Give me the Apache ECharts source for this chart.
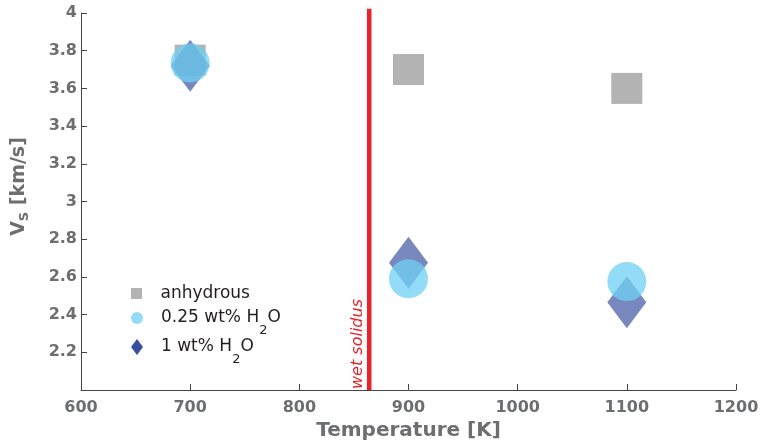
<!DOCTYPE html>
<html>
<head>
<meta charset="utf-8">
<script src="https://cdn.jsdelivr.net/npm/echarts@6/dist/echarts.min.js"></script>
<style>html,body{margin:0;padding:0;background:#fff}#c{width:763px;height:446px}</style>
</head>
<body>
<div id="c"></div>
<script>
const xTicks = [600, 700, 800, 900, 1000, 1100, 1200];
const yTicks = [2, 2.2, 2.4, 2.6, 2.8, 3, 3.2, 3.4, 3.6, 3.8, 4];
const temperatures = [700, 900, 1100];
const vsAnhydrous = [3.75, 3.70, 3.60];
const vs025 = [3.735, 2.59, 2.575];
const vs1 = [3.72, 2.675, 2.465];
const wetSolidusT = 864;
const wetSolidusSpan = [2, 4.022];
const seriesNames = ['anhydrous', '0.25 wt% H2O', '1 wt% H2O'];

const pair = (vals) => temperatures.map((t, i) => [t, vals[i]]);
const diamondPath = 'path://M0,-4 L3,0 L0,4 L-3,0 Z';
const squarePath = 'path://M0,0 L1,0 L1,1 L0,1 Z';
const FONT = 'DejaVu Sans';
const labelGray = '#6d6e70';
const fmtName = (n) => n.replace('H2O', 'H{sub|2}O');
const legendRich = { sub: { fontSize: 13, fontFamily: FONT, color: '#231f20', padding: [26, 0, 0, 0] } };

function legendOf(name, left, top, icon, color, w, h) {
  return {
    data: [{ name: name, icon: icon, itemStyle: { color: color, opacity: 1 } }],
    orient: 'vertical', left: left, top: top, padding: 0,
    itemWidth: w, itemHeight: h, symbolKeepAspect: true,
    selectedMode: false,
    formatter: fmtName,
    textStyle: { fontFamily: FONT, fontSize: 17, color: '#231f20', padding: [0, 0, 0, 13], rich: legendRich }
  };
}

const chart = echarts.init(document.getElementById('c'), null, { renderer: 'canvas' });
chart.setOption({
  animation: false,
  backgroundColor: '#fff',
  grid: { left: 81, right: 27, top: 13, bottom: 54 },
  xAxis: {
    type: 'value', min: xTicks[0], max: xTicks[xTicks.length - 1], interval: 100,
    name: 'Temperature [K]', nameLocation: 'middle', nameGap: 31,
    nameTextStyle: { fontFamily: FONT, fontSize: 20, fontWeight: 'bold', color: labelGray },
    axisLine: { lineStyle: { color: '#444', width: 1 } },
    axisTick: { inside: true, length: 6, lineStyle: { color: '#444' } },
    axisLabel: { margin: 10, fontFamily: FONT, fontSize: 16, fontWeight: 'bold', color: labelGray,
      formatter: (v) => String(v) },
    splitLine: { show: false }
  },
  yAxis: {
    type: 'value', min: yTicks[0], max: yTicks[yTicks.length - 1], interval: 0.2,
    name: 'V{sub|S} [km/s]', nameLocation: 'middle', nameGap: 50,
    nameTextStyle: {
      fontFamily: FONT, fontSize: 19, fontWeight: 'bold', color: labelGray, padding: [0, 0, 0, 30],
      rich: { sub: { fontSize: 13, fontFamily: FONT, fontWeight: 'bold', color: labelGray, padding: [10, 0, 0, 0] } }
    },
    axisLine: { show: true, lineStyle: { color: '#444', width: 1 } },
    axisTick: { show: true, inside: true, length: 6, lineStyle: { color: '#444' } },
    axisLabel: {
      margin: 4, fontFamily: FONT, fontSize: 16, fontWeight: 'bold', color: labelGray,
      formatter: (v) => (Math.abs(v - yTicks[0]) < 1e-9 ? '' : String(+v.toFixed(1)))
    },
    splitLine: { show: false }
  },
  legend: [
    legendOf(seriesNames[0], 131, 285, squarePath, '#b3b3b3', 12, 11),
    legendOf(seriesNames[1], 131, 309.5, 'circle', '#93dcf7', 12, 12),
    legendOf(seriesNames[2], 131, 338.5, diamondPath, '#3a4ea0', 12, 16)
  ],
  series: [
    {
      name: 'wet solidus', type: 'line', clip: false, silent: true, symbol: 'none',
      data: wetSolidusSpan.map(v => [wetSolidusT, v]),
      lineStyle: { color: '#e8232a', width: 4.5 }, z: 1
    },
    {
      name: seriesNames[0], type: 'scatter', symbol: 'rect', symbolSize: 31,
      data: pair(vsAnhydrous), itemStyle: { color: '#b3b3b3', opacity: 1 }, z: 2
    },
    {
      name: seriesNames[2], type: 'scatter', symbol: diamondPath, symbolSize: [39, 52],
      data: pair(vs1), itemStyle: { color: '#3a4ea0', opacity: 0.68 }, z: 3
    },
    {
      name: seriesNames[1], type: 'scatter', symbol: 'circle', symbolSize: 39,
      data: pair(vs025), itemStyle: { color: 'rgb(111,208,244)', opacity: 0.75 }, z: 4
    }
  ]
});

const p = chart.convertToPixel({ gridIndex: 0 }, [wetSolidusT, yTicks[0]]);
chart.setOption({
  graphic: [{
    type: 'text', x: p[0] - 11, y: p[1] - 46, rotation: Math.PI / 2,
    style: {
      text: 'wet solidus', fontFamily: FONT, fontSize: 16, fontStyle: 'italic',
      fill: '#e8232a', align: 'center', verticalAlign: 'middle'
    }
  }]
});
</script>
</body>
</html>
